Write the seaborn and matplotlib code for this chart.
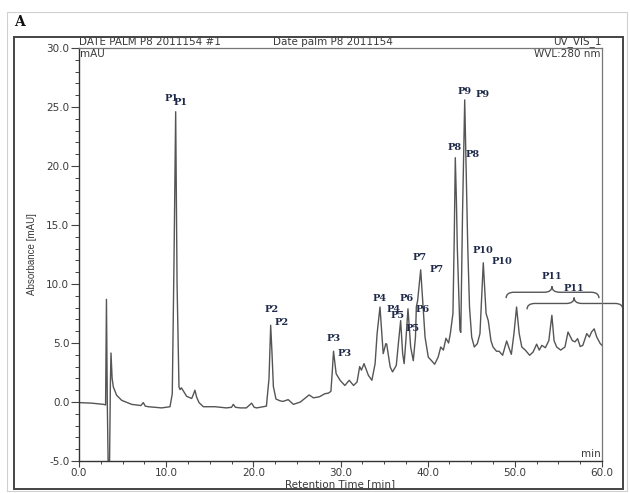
import numpy as np
import pandas as pd
import matplotlib
matplotlib.use("Agg")
import matplotlib.pyplot as plt
from matplotlib.patches import Rectangle, PathPatch
from matplotlib.path import Path
from matplotlib.ticker import MultipleLocator, FormatStrFormatter
import seaborn as sns

# ---- data ----
time_min = [0.0, 1.5, 2.8, 3.05, 3.15, 3.25, 3.35, 3.5, 3.6, 3.67, 3.8, 3.94, 4.32, 4.9, 6.04,
            7.1, 7.38, 7.6, 7.95, 9.48, 10.44, 10.7, 10.9, 11.09, 11.25, 11.47, 11.6, 11.75, 12.0,
            12.35, 12.93, 13.1, 13.3, 13.5, 13.77, 14.26, 15.6, 16.2, 16.9, 17.5, 17.7, 17.95, 18.5,
            19.2, 19.8, 20.1, 20.4, 21.5, 21.8, 21.99, 22.15, 22.3, 22.6, 23.06, 23.4, 24.0, 24.6,
            25.4, 25.9, 26.4, 26.9, 27.6, 28.2, 28.6, 28.9, 29.05, 29.2, 29.5, 29.95, 30.5, 31.0,
            31.5, 31.9, 32.2, 32.4, 32.7, 33.2, 33.6, 33.97, 34.2, 34.53, 34.9, 35.2, 35.3, 35.7,
            35.97, 36.4, 36.6, 36.9, 37.13, 37.3, 37.5, 37.74, 38.05, 38.35, 38.6, 38.7, 38.85,
            39.2, 39.4, 39.7, 40.07, 40.45, 40.8, 41.2, 41.5, 41.8, 42.1, 42.4, 42.6, 42.9, 43.05,
            43.17, 43.3, 43.4, 43.7, 43.8, 44.0, 44.25, 44.4, 44.6, 44.8, 45.05, 45.35, 45.7, 46.0,
            46.2, 46.38, 46.7, 46.95, 47.26, 47.5, 47.9, 48.2, 48.6, 48.85, 49.06, 49.37, 49.6,
            49.9, 50.2, 50.5, 50.8, 51.2, 51.7, 52.1, 52.5, 52.8, 53.1, 53.5, 53.9, 54.25, 54.5,
            54.8, 55.26, 55.75, 56.1, 56.4, 56.6, 56.9, 57.2, 57.5, 57.8, 58.25, 58.55, 58.8, 59.1,
            59.4, 59.8, 60.0]
absorbance = [-0.05, -0.1, -0.2, -0.25, 8.7, -0.3, -5.5, -5.5, 1.5, 4.15, 2.0, 1.27, 0.57, 0.14, -0.2,
              -0.3, -0.05, -0.35, -0.4, -0.5, -0.4, 0.7, 12.0, 24.6, 10.0, 1.27, 1.05, 1.2, 0.9,
              0.48, 0.3, 0.6, 1.0, 0.4, -0.05, -0.4, -0.4, -0.45, -0.5, -0.45, -0.2, -0.45, -0.5,
              -0.5, -0.1, -0.45, -0.5, -0.35, 2.0, 6.5, 4.0, 1.3, 0.25, 0.1, 0.05, 0.2, -0.2,
              0.0, 0.3, 0.6, 0.35, 0.45, 0.7, 0.75, 0.9, 2.5, 4.3, 2.4, 1.84, 1.4, 1.84,
              1.4, 1.7, 3.0, 2.7, 3.25, 2.26, 1.84, 3.25, 5.8, 8.05, 4.1, 4.95, 4.9, 2.97,
              2.55, 3.1, 4.66, 6.9, 4.1, 3.25, 5.2, 7.9, 4.66, 3.5, 5.5, 8.05, 8.6,
              11.2, 8.9, 5.5, 3.8, 3.5, 3.2, 3.8, 4.66, 4.4, 5.4, 5.0, 5.8, 7.5, 14.0,
              20.7, 17.0, 13.1, 6.1, 5.9, 16.0, 25.6, 20.2, 13.1, 8.05, 5.5, 4.66, 4.95, 5.8,
              9.0, 11.8, 7.5, 6.9, 5.2, 4.66, 4.3, 4.3, 3.96, 4.6, 5.17, 4.5, 4.04,
              5.8, 8.05, 5.8, 4.66, 4.4, 3.96, 4.24, 4.9, 4.4, 4.8, 4.6, 5.2, 7.35, 5.2,
              4.66, 4.4, 4.66, 5.93, 5.5, 5.2, 5.1, 5.37, 4.7, 4.8, 5.8, 5.5, 5.93, 6.2,
              5.5, 4.95, 4.8]

# peak labels (two overlapping label sets as in the original figure)
label_names = ["P1", "P2", "P3", "P4", "P5", "P6", "P7", "P8", "P9", "P10", "P11"]
label_a_t = [10.67, 22.14, 29.25, 34.53, 36.6, 37.6, 39.1, 43.13, 44.28, 46.35, 54.26]
label_a_v = [25.7, 7.85, 5.4, 8.8, 7.35, 8.8, 12.26, 21.6, 26.3, 12.86, 10.65]
label_b_t = [11.7, 23.29, 30.5, 36.14, 38.3, 39.46, 41.07, 45.2, 46.35, 48.5, 56.8]
label_b_v = [25.4, 6.75, 4.1, 7.8, 6.25, 7.8, 11.25, 21.0, 26.1, 11.9, 9.64]

# brace spans for P11 groups: start, end, tip, level
brace_start = [49.0, 51.4]
brace_end = [59.65, 62.4]
brace_tip = [54.26, 56.8]
brace_level = [9.3, 8.35]

df = pd.DataFrame({"t": time_min, "v": absorbance})

W, H = 630, 493
fig = plt.figure(figsize=(W / 100, H / 100), dpi=100)
fig.patch.set_facecolor("white")

def fx(px):
    return px / W

def fy(py):
    return 1 - py / H

# outer light border and inner black frame
fig.patches.append(Rectangle((fx(7), fy(491)), fx(620), 479 / H, transform=fig.transFigure,
                             fill=False, edgecolor="#d0d0d0", lw=0.8))
fig.patches.append(Rectangle((fx(14), fy(489)), fx(609), 452 / H, transform=fig.transFigure,
                             fill=False, edgecolor="#444444", lw=1.4))
fig.text(fx(14), fy(22), "A", fontsize=10, fontweight="bold", family="DejaVu Serif",
         ha="left", va="center", color="#111111")

ax = fig.add_axes([fx(79), fy(461), fx(602) - fx(79), (461 - 48) / H])
sns.lineplot(data=df, x="t", y="v", ax=ax, sort=False, estimator=None,
             color="#555555", lw=1.0)
ax.set_xlim(0, 60)
ax.set_ylim(-5, 30)

ax.xaxis.set_major_locator(MultipleLocator(10))
ax.xaxis.set_minor_locator(MultipleLocator(2.5))
ax.yaxis.set_major_locator(MultipleLocator(5))
ax.yaxis.set_minor_locator(MultipleLocator(1))
ax.xaxis.set_major_formatter(FormatStrFormatter("%.1f"))
ax.yaxis.set_major_formatter(FormatStrFormatter("%.1f"))
for lab in ax.get_xticklabels() + ax.get_yticklabels():
    lab.set_family("DejaVu Sans")
ax.tick_params(which="major", direction="out", length=6, width=0.8, color="#444444",
               labelsize=7.5, labelcolor="#3a3a3a", pad=1)
ax.tick_params(which="minor", direction="out", length=3, width=0.7, color="#444444")
ax.tick_params(axis="x", which="major", length=4)
ax.tick_params(axis="x", which="minor", length=2.5)
for s in ["left", "bottom"]:
    ax.spines[s].set_color("#333333")
    ax.spines[s].set_linewidth(1.0)
for s in ["top", "right"]:
    ax.spines[s].set_color("#777777")
    ax.spines[s].set_linewidth(0.9)

ax.set_xlabel("Retention Time [min]", fontsize=7.5, family="DejaVu Sans", color="#3a3a3a",
              labelpad=1)
ax.set_ylabel("Absorbance [mAU]", fontsize=7, family="Liberation Sans", color="#3a3a3a",
              labelpad=6)
ax.yaxis.set_label_coords(-0.08, 0.5)

hdr = dict(fontsize=7.5, family="DejaVu Sans", color="#3a3a3a", transform=ax.transAxes)
ax.text(0.0, 1.003, "DATE PALM P8 2011154 #1", ha="left", va="bottom", **hdr)
ax.text(0.37, 1.003, "Date palm P8 2011154", ha="left", va="bottom", **hdr)
ax.text(1.0, 1.003, "UV_VIS_1", ha="right", va="bottom", **hdr)
ax.text(0.002, 0.997, "mAU", ha="left", va="top", **hdr)
ax.text(0.998, 0.997, "WVL:280 nm", ha="right", va="top", **hdr)
ax.text(0.998, 0.004, "min", ha="right", va="bottom", **hdr)

lab_kw = dict(fontsize=7, fontweight="bold", family="DejaVu Serif", color="#1f2a48",
              ha="center", va="center")
for n, t, v in zip(label_names, label_a_t, label_a_v):
    ax.text(t, v, n, **lab_kw)
for n, t, v in zip(label_names, label_b_t, label_b_v):
    ax.text(t, v, n, clip_on=False, **lab_kw)

def brace(x0, x1, xc, y, h=0.5, dx=0.9):
    verts = [(x0, y - h), (x0, y), (x0 + dx, y),
             (xc - dx, y), (xc, y), (xc, y + h),
             (xc, y), (xc + dx, y),
             (x1 - dx, y), (x1, y), (x1, y - h)]
    codes = [Path.MOVETO, Path.CURVE3, Path.CURVE3,
             Path.LINETO, Path.CURVE3, Path.CURVE3,
             Path.CURVE3, Path.CURVE3,
             Path.LINETO, Path.CURVE3, Path.CURVE3]
    ax.add_patch(PathPatch(Path(verts, codes), fill=False, edgecolor="#555555", lw=1.0,
                           clip_on=False))

for a, b, c, y in zip(brace_start, brace_end, brace_tip, brace_level):
    brace(a, b, c, y)

fig.savefig("out.png", dpi=100)
